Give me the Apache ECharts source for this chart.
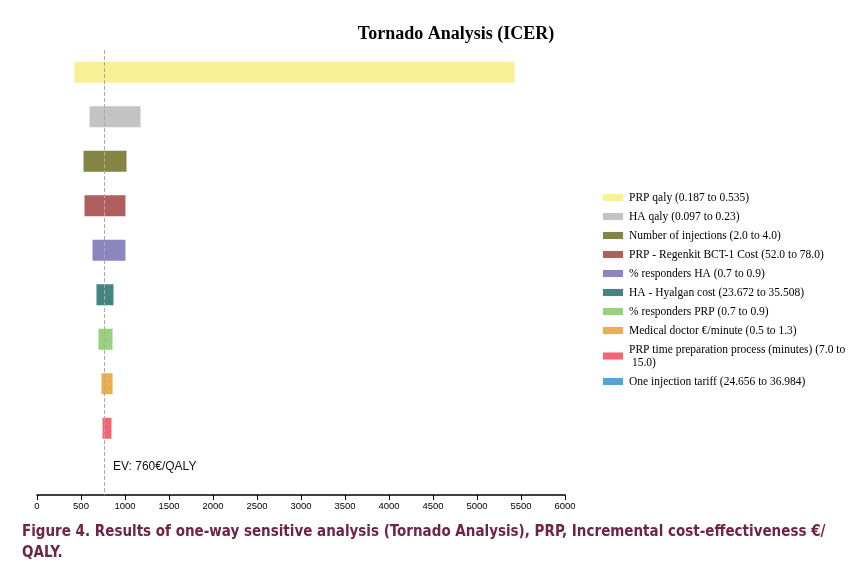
<!DOCTYPE html>
<html>
<head>
<meta charset="utf-8">
<script src="https://cdn.jsdelivr.net/npm/echarts@6/dist/echarts.min.js"></script>
<style>html,body{margin:0;padding:0;background:#fff}#tornado{width:861px;height:575px}</style>
</head>
<body>
<div id="tornado"></div>
<script>
// 因素名称
var factors = ['PRP qaly (0.187 to 0.535)', 'HA qaly (0.097 to 0.23)', 'Number of injections (2.0 to 4.0)',
    'PRP - Regenkit BCT-1 Cost (52.0 to 78.0)', '% responders HA (0.7 to 0.9)', 'HA - Hyalgan cost (23.672 to 35.508)',
    '% responders PRP (0.7 to 0.9)', 'Medical doctor €/minute (0.5 to 1.3)',
    'PRP time preparation process (minutes) (7.0 to\n 15.0)', 'One injection tariff (24.656 to 36.984)']
// 每个因素的ICER下限和上限
var lowVals = [420, 591, 523, 534, 625, 670, 693, 727, 739, 760]
var highVals = [5432, 1182, 1023, 1011, 1011, 875, 864, 864, 852, 760]
var colors = ['#f8ef90', '#c0c0c0', '#7d7e3b', '#ad5555', '#8581bb', '#3a7d7a', '#94cf78', '#e8ab45', '#f45c6c', '#4aa0d5']
var evValue = 760

var dom = document.getElementById('tornado')
var chart = echarts.init(dom)

var series = [{
    name: 'base', type: 'bar', stack: 't', silent: true,
    itemStyle: { color: 'transparent' },
    data: lowVals,
    markLine: {
        symbol: 'none', silent: true,
        lineStyle: { color: '#aaa', type: 'dashed', width: 1 },
        label: { show: false },
        data: [{ xAxis: evValue }]
    }
}]
for (var i = 0; i < factors.length; i++) {
    var d = []
    for (var j = 0; j < factors.length; j++) d.push(j === i ? highVals[i] - lowVals[i] : '-')
    series.push({
        name: factors[i], type: 'bar', stack: 't', barWidth: 22,
        itemStyle: { color: colors[i], borderColor: '#fff', borderWidth: 0.5, opacity: 0.95 },
        data: d
    })
}

var option = {
    animation: false,
    title: {
        text: 'Tornado Analysis (ICER)', left: 451, top: 20, textAlign: 'center',
        textStyle: { fontFamily: 'Liberation Serif', fontSize: 18, fontWeight: 'bold', color: '#000' }
    },
    grid: { left: 37, right: 296, top: 50, bottom: 80 },
    legend: {
        orient: 'vertical', left: 596, top: 186, itemWidth: 22, itemHeight: 9, itemGap: 6,
        data: factors, icon: 'rect', selectedMode: false,
        textStyle: { fontFamily: 'Liberation Serif', fontSize: 11.5, color: '#000', lineHeight: 13 }
    },
    xAxis: {
        type: 'value', min: 0, max: 6000, interval: 500,
        axisLine: { show: true, onZero: false, lineStyle: { color: '#000', width: 1.5 } },
        axisTick: { show: true, length: 5, lineStyle: { color: '#000' } },
        axisLabel: { fontFamily: 'Liberation Sans', fontSize: 9.5, color: '#000', margin: 6,
            formatter: function (v) { return String(v) } },
        splitLine: { show: false }
    },
    yAxis: {
        type: 'category', data: factors, inverse: true, show: false
    },
    graphic: [{
        type: 'text', left: 113, top: 461,
        style: { text: 'EV: ' + evValue + '€/QALY', font: '12px "Liberation Sans"', fill: '#111' }
    }, {
        type: 'text', left: 22, top: 522,
        style: {
            text: 'Figure 4. Results of one-way sensitive analysis (Tornado Analysis), PRP, Incremental cost-effectiveness €/\nQALY.',
            font: 'bold 15px "DejaVu Sans Condensed"', fill: '#6e2447', lineHeight: 21
        }
    }],
    series: series
}
chart.setOption(option)

window.onresize = function () {
    chart.resize()
}
</script>
</body>
</html>
